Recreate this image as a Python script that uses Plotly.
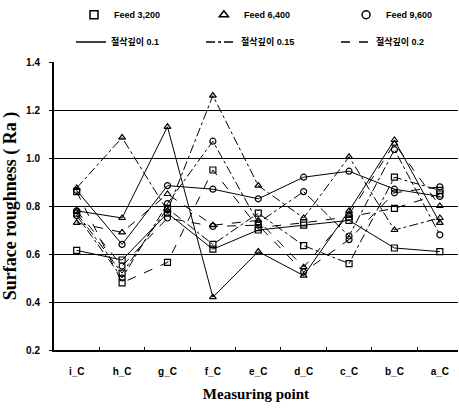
import plotly.graph_objects as go

categories = ["i_C", "h_C", "g_C", "f_C", "e_C", "d_C", "c_C", "b_C", "a_C"]

# Feed 3,200 (square), Feed 6,400 (triangle), Feed 9,600 (circle)
# depth 0.1 = solid, 0.15 = dash-dot, 0.2 = dash
f3200_d010 = [0.615, 0.575, 0.77, 0.62, 0.70, 0.72, 0.74, 0.625, 0.61]
f6400_d010 = [0.78, 0.75, 1.13, 0.42, 0.61, 0.51, 0.78, 1.075, 0.73]
f9600_d010 = [0.865, 0.64, 0.885, 0.87, 0.83, 0.92, 0.945, 0.87, 0.84]
f3200_d015 = [0.77, 0.52, 0.79, 0.64, 0.77, 0.635, 0.56, 0.92, 0.865]
f6400_d015 = [0.875, 1.085, 0.78, 1.26, 0.885, 0.75, 1.005, 0.70, 0.75]
f9600_d015 = [0.76, 0.50, 0.81, 1.07, 0.73, 0.86, 0.675, 1.035, 0.68]
f3200_d020 = [0.86, 0.48, 0.565, 0.95, 0.71, 0.73, 0.755, 0.79, 0.85]
f6400_d020 = [0.73, 0.69, 0.85, 0.72, 0.74, 0.545, 0.765, 1.06, 0.80]
f9600_d020 = [0.78, 0.55, 0.75, 0.715, 0.72, 0.525, 0.66, 0.855, 0.88]

feed_names = ["Feed 3,200", "Feed 6,400", "Feed 9,600"]
depth_names = ["절삭깊이 0.1", "절삭깊이 0.15", "절삭깊이 0.2"]

series = [
    (f3200_d010, 0, 0), (f6400_d010, 1, 0), (f9600_d010, 2, 0),
    (f3200_d015, 0, 1), (f6400_d015, 1, 1), (f9600_d015, 2, 1),
    (f3200_d020, 0, 2), (f6400_d020, 1, 2), (f9600_d020, 2, 2),
]
symbols = ["square-open", "triangle-up-open", "circle-open"]
dashes = ["solid", "dashdot", "dash"]

fig = go.Figure()
for vals, fi, di in series:
    fig.add_trace(go.Scatter(
        x=categories, y=vals, mode="lines+markers",
        line=dict(color="black", width=1, dash=dashes[di]),
        marker=dict(symbol=symbols[fi], size=6, color="black", line=dict(width=1.2, color="black")),
        showlegend=False,
    ))

feed_legends = ["legend", "legend2", "legend3"]
depth_legends = ["legend4", "legend5", "legend6"]
for fi, name in enumerate(feed_names):
    fig.add_trace(go.Scatter(
        x=[None], y=[None], mode="markers", name=name,
        marker=dict(symbol=symbols[fi], size=8, color="black", line=dict(width=1.5, color="black")),
        legend=feed_legends[fi],
    ))
for di, name in enumerate(depth_names):
    fig.add_trace(go.Scatter(
        x=[None], y=[None], mode="lines", name=name,
        line=dict(color="black", width=1.5, dash=dashes[di]),
        legend=depth_legends[di],
    ))

font_main = "Liberation Sans, Noto Sans CJK KR, sans-serif"
leg_font = dict(family=font_main, size=9, color="black", weight="bold")


def leg(x, y):
    return dict(orientation="h", x=x, y=y, xanchor="left", yanchor="middle",
                font=leg_font, bgcolor="rgba(0,0,0,0)", itemwidth=30)


fig.update_layout(
    width=459, height=409,
    margin=dict(l=54, r=1, t=61, b=59),
    paper_bgcolor="white", plot_bgcolor="white",
    font=dict(family=font_main, color="black", size=9),
    legend=leg(0.0495, 1.16),
    legend2=leg(0.371, 1.16),
    legend3=leg(0.723, 1.16),
    legend4=leg(0.042, 1.066),
    legend5=leg(0.364, 1.066),
    legend6=leg(0.698, 1.066),
    xaxis=dict(
        type="category", range=[-0.5, 8.4],
        showgrid=False, showline=True, linecolor="black", linewidth=2,
        ticks="inside", ticklen=3, tickcolor="black", tickwidth=1,
        tickson="boundaries", ticklabelstandoff=11,
        tickfont=dict(family=font_main, size=10, color="black", weight="bold"),
        title=dict(text="Measuring point", standoff=12,
                   font=dict(family="Liberation Serif, serif", size=15, color="black", weight="bold")),
        zeroline=False,
    ),
    yaxis=dict(
        range=[0.2, 1.4], dtick=0.2, tick0=0.2, tickformat=".1f",
        showgrid=True, gridcolor="black", gridwidth=1.3,
        showline=True, linecolor="black", linewidth=2,
        ticks="outside", ticklen=3, tickcolor="black", tickwidth=1,
        ticklabelstandoff=7,
        tickfont=dict(family=font_main, size=10, color="black", weight="bold"),
        title=dict(text="Surface roughness ( Ra )", standoff=6,
                   font=dict(family="Liberation Serif, serif", size=18, color="black", weight="bold")),
        zeroline=False,
    ),
)

fig.write_html("out.html")
